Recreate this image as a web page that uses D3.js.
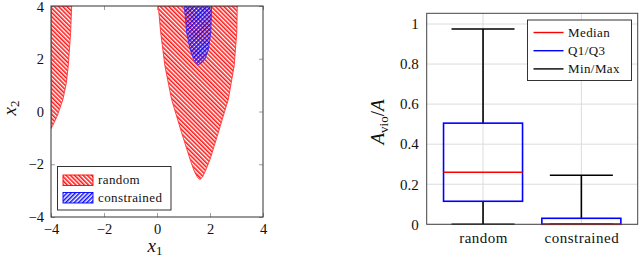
<!DOCTYPE html>
<html>
<head>
<meta charset="utf-8">
<script src="https://cdn.jsdelivr.net/npm/d3@7"></script>
<style>
  html, body { margin: 0; padding: 0; background: #fff; }
  svg { display: block; }
  svg text { font-family: "Liberation Serif", "DejaVu Serif", serif; fill: #111; }
</style>
</head>
<body>
<svg id="chart" width="640" height="259"></svg>
<script>
// ---------- Data: left panel (regions in x1/x2 space) ----------
const xTicksLeft = [-4, -2, 0, 2, 4];
const yTicksLeft = [-4, -2, 0, 2, 4];
const regionRandomMain = [
  [0.05, 4], [0.14, 2.99], [0.30, 1.72], [0.55, 0.46], [0.93, -0.81],
  [1.25, -1.82], [1.40, -2.25], [1.53, -2.50], [1.62, -2.58], [1.72, -2.48],
  [1.84, -2.22], [2.0, -1.82], [2.31, -0.81], [2.69, 0.46], [2.91, 1.72],
  [3.01, 2.99], [3.03, 4]
];
const regionRandomLeft = [
  [-4, 4], [-3.22, 4], [-3.26, 2.99], [-3.35, 1.72], [-3.42, 1.09],
  [-3.55, 0.46], [-3.77, -0.18], [-3.93, -0.52], [-4, -0.65]
];
const regionConstrained = [
  [1.03, 4], [1.12, 2.99], [1.25, 2.35], [1.38, 1.98], [1.50, 1.80],
  [1.58, 1.78], [1.70, 1.86], [1.81, 1.99], [1.94, 2.35], [2.03, 2.99], [2.06, 4]
];
const legendLeft = ["random", "constrained"];

// ---------- Data: right panel (box plot) ----------
const categories = ["random", "constrained"];
const minVals    = [0.0, 0.0];
const q1Vals     = [0.115, 0.0];
const medianVals = [0.26, 0.0];
const q3Vals     = [0.505, 0.03];
const maxVals    = [0.975, 0.245];
const yTicksRight = [0, 0.2, 0.4, 0.6, 0.8, 1];
const legendRight = ["Median", "Q1/Q3", "Min/Max"];

const FONT = "Liberation Serif";
const svg = d3.select("#chart");
const defs = svg.append("defs");

function hatch(id, color, angle) {
  const p = defs.append("pattern")
    .attr("id", id).attr("patternUnits", "userSpaceOnUse")
    .attr("width", 3).attr("height", 3)
    .attr("patternTransform", `rotate(${angle})`);
  p.append("line").attr("x1", 0.8).attr("y1", -1).attr("x2", 0.8).attr("y2", 4)
    .attr("stroke", color).attr("stroke-width", 1.45);
}
hatch("hatchRed", "#ff0000", -45);
hatch("hatchBlue", "#0000ff", 45);

// ================= LEFT PANEL =================
const L = { left: 51, right: 263, top: 6, bottom: 217 };
const xL = d3.scaleLinear().domain([-4, 4]).range([L.left, L.right]);
const yL = d3.scaleLinear().domain([-4, 4]).range([L.bottom, L.top]);

defs.append("clipPath").attr("id", "clipL").append("rect")
  .attr("x", L.left).attr("y", L.top).attr("width", L.right - L.left).attr("height", L.bottom - L.top);

const gL = svg.append("g");
const areaLine = d3.line().x(d => xL(d[0])).y(d => yL(d[1]));
const regions = gL.append("g").attr("clip-path", "url(#clipL)");
[regionRandomMain, regionRandomLeft].forEach(r => {
  regions.append("path").attr("d", areaLine(r) + "Z")
    .attr("fill", "url(#hatchRed)").attr("stroke", "#ff3333").attr("stroke-width", 0.9);
});
regions.append("path").attr("d", areaLine(regionConstrained) + "Z")
  .attr("fill", "url(#hatchBlue)").attr("stroke", "#3333ff").attr("stroke-width", 0.9);

function styleAxis(g, size) {
  g.attr("font-family", FONT);
  g.select(".domain").remove();
  g.selectAll(".tick line").attr("stroke", "#888").attr("stroke-width", 0.8);
  g.selectAll(".tick text").attr("font-size", size || 14.5).attr("font-family", FONT).attr("fill", "#111");
}
const fmtL = d => (d < 0 ? "\u2212" + Math.abs(d) : String(d));
gL.append("g").attr("transform", `translate(0,${L.bottom})`)
  .call(d3.axisBottom(xL).tickValues(xTicksLeft).tickFormat(fmtL).tickSizeInner(-4).tickSizeOuter(0).tickPadding(7))
  .call(styleAxis);
gL.append("g").attr("transform", `translate(0,${L.top})`)
  .call(d3.axisTop(xL).tickValues(xTicksLeft).tickFormat("").tickSizeInner(-4).tickSizeOuter(0))
  .call(styleAxis);
gL.append("g").attr("transform", `translate(${L.left},0)`)
  .call(d3.axisLeft(yL).tickValues(yTicksLeft).tickFormat(fmtL).tickSizeInner(-4).tickSizeOuter(0).tickPadding(7))
  .call(styleAxis)
  .call(g => g.selectAll(".tick text").attr("dy", d => d === 4 ? "0.38em" : "0.32em"));
gL.append("g").attr("transform", `translate(${L.right},0)`)
  .call(d3.axisRight(yL).tickValues(yTicksLeft).tickFormat("").tickSizeInner(-4).tickSizeOuter(0))
  .call(styleAxis);
gL.append("rect").attr("x", L.left).attr("y", L.top)
  .attr("width", L.right - L.left).attr("height", L.bottom - L.top)
  .attr("fill", "none").attr("stroke", "#333").attr("stroke-width", 1);

// axis labels
const x1 = gL.append("text").attr("x", 155).attr("y", 252).attr("text-anchor", "middle")
  .attr("font-size", 19);
x1.append("tspan").attr("font-style", "italic").text("x");
x1.append("tspan").attr("font-size", 13).attr("dy", 3).text("1");
const x2 = gL.append("text").attr("transform", "translate(16,108) rotate(-90)")
  .attr("text-anchor", "middle").attr("font-size", 19);
x2.append("tspan").attr("font-style", "italic").text("x");
x2.append("tspan").attr("font-size", 13).attr("dy", 3).text("2");

// left legend
const legL = gL.append("g");
legL.append("rect").attr("x", 57.5).attr("y", 166.5).attr("width", 113.5).attr("height", 43.5)
  .attr("fill", "#fff").attr("stroke", "#333").attr("stroke-width", 1);
const legFills = ["url(#hatchRed)", "url(#hatchBlue)"];
const legStrokes = ["#ff0000", "#0000ff"];
legendLeft.forEach((name, i) => {
  const yy = 175 + i * 17.5;
  legL.append("rect").attr("x", 63).attr("y", yy).attr("width", 30).attr("height", 10.5)
    .attr("fill", legFills[i]).attr("stroke", legStrokes[i]).attr("stroke-width", 0.9);
  legL.append("text").attr("x", 98).attr("y", yy + 9).attr("font-size", 13)
    .attr("font-family", FONT).attr("letter-spacing", 0.4).text(name);
});

// ================= RIGHT PANEL =================
const R = { left: 426.7, right: 637.7, top: 13.3, bottom: 224.3 };
const xR = d3.scalePoint().domain(categories).range([R.left, R.right]).padding(0.573);
const yR = d3.scaleLinear().domain([0, 1]).range([R.bottom, 24]);
const gR = svg.append("g");

// grid
gR.append("g").selectAll("line.gy").data(yTicksRight).join("line")
  .attr("x1", R.left).attr("x2", R.right).attr("y1", d => yR(d)).attr("y2", d => yR(d))
  .attr("stroke", "#dcdcdc").attr("stroke-width", 1);
gR.append("g").selectAll("line.gx").data(categories).join("line")
  .attr("x1", d => xR(d)).attr("x2", d => xR(d)).attr("y1", R.top).attr("y2", R.bottom)
  .attr("stroke", "#dcdcdc").attr("stroke-width", 1);

// axes labels
gR.append("g").attr("transform", `translate(${R.left},0)`)
  .call(d3.axisLeft(yR).tickValues(yTicksRight).tickFormat(d => String(d)).tickSize(0).tickPadding(8))
  .call(g => styleAxis(g, 15));
gR.append("g").attr("transform", `translate(0,${R.bottom})`)
  .call(d3.axisBottom(xR).tickSize(0).tickPadding(8))
  .call(g => styleAxis(g, 15))
  .call(g => g.selectAll(".tick text").attr("letter-spacing", 0.5));

// boxes
const boxW = 79, capW = 63;
const boxes = categories.map((c, i) => ({
  c, min: minVals[i], q1: q1Vals[i], med: medianVals[i], q3: q3Vals[i], max: maxVals[i]
}));
const bg = gR.append("g");
boxes.forEach(b => {
  const cx = xR(b.c);
  bg.append("line").attr("x1", cx).attr("x2", cx).attr("y1", yR(b.q3)).attr("y2", yR(b.max))
    .attr("stroke", "#000").attr("stroke-width", 1.6);
  bg.append("line").attr("x1", cx).attr("x2", cx).attr("y1", yR(b.q1)).attr("y2", yR(b.min))
    .attr("stroke", "#000").attr("stroke-width", 1.6);
  bg.append("line").attr("x1", cx - capW / 2).attr("x2", cx + capW / 2).attr("y1", yR(b.max)).attr("y2", yR(b.max))
    .attr("stroke", "#000").attr("stroke-width", 1.6);
  bg.append("line").attr("x1", cx - capW / 2).attr("x2", cx + capW / 2).attr("y1", yR(b.min)).attr("y2", yR(b.min))
    .attr("stroke", "#000").attr("stroke-width", 1.6);
  bg.append("rect").attr("x", cx - boxW / 2).attr("y", yR(b.q3))
    .attr("width", boxW).attr("height", yR(b.q1) - yR(b.q3))
    .attr("fill", "none").attr("stroke", "#0000ff").attr("stroke-width", 1.6);
  bg.append("line").attr("x1", cx - boxW / 2).attr("x2", cx + boxW / 2).attr("y1", yR(b.med)).attr("y2", yR(b.med))
    .attr("stroke", "#ff0000").attr("stroke-width", 1.4);
});

// frame
gR.append("rect").attr("x", R.left).attr("y", R.top)
  .attr("width", R.right - R.left).attr("height", R.bottom - R.top)
  .attr("fill", "none").attr("stroke", "#444").attr("stroke-width", 1);

// y label
const yl = gR.append("text").attr("transform", "translate(384,122) rotate(-90)")
  .attr("text-anchor", "middle").attr("font-size", 19);
yl.append("tspan").attr("font-style", "italic").text("A");
yl.append("tspan").attr("font-size", 13).attr("dy", 4).text("vio");
yl.append("tspan").attr("dy", -4).text("/");
yl.append("tspan").attr("font-style", "italic").text("A");

// right legend
const legR = gR.append("g");
legR.append("rect").attr("x", 527.5).attr("y", 20).attr("width", 104).attr("height", 60.5)
  .attr("fill", "#fff").attr("stroke", "#333").attr("stroke-width", 1);
const legColors = ["#ff0000", "#0000ff", "#000000"];
legendRight.forEach((name, i) => {
  const yy = 32.5 + i * 18.2;
  legR.append("line").attr("x1", 533.5).attr("x2", 563.5).attr("y1", yy).attr("y2", yy)
    .attr("stroke", legColors[i]).attr("stroke-width", 1.4);
  legR.append("text").attr("x", 568).attr("y", yy + 4).attr("font-size", 13)
    .attr("font-family", FONT).attr("letter-spacing", 0.4).text(name);
});
</script>
</body>
</html>
